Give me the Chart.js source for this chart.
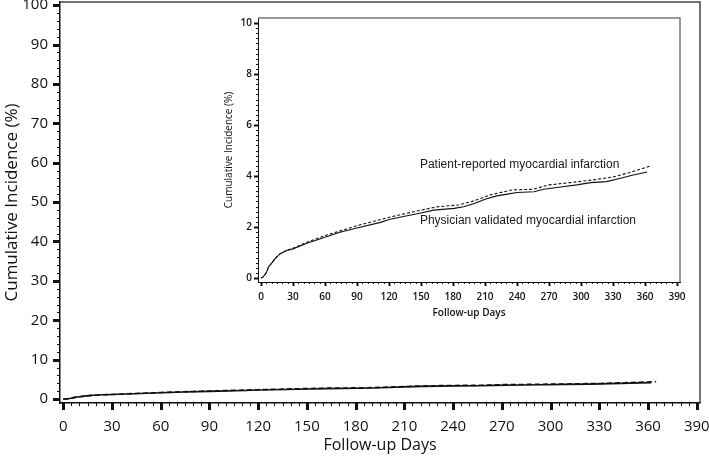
<!DOCTYPE html>
<html>
<head>
<meta charset="utf-8">
<script src="https://cdn.jsdelivr.net/npm/chart.js@4"></script>
<style>
  body { margin: 0; background: #fff; }
  #wrap { position: relative; width: 709px; height: 463px; }
  #mainChart { position: absolute; left: 0; top: 0; }
  #insetChart { position: absolute; left: 215px; top: 5px; background: #fff; }
</style>
</head>
<body>
<div id="wrap">
  <canvas id="mainChart" width="709" height="463"></canvas>
  <canvas id="insetChart" width="480" height="325"></canvas>
</div>
<script>
// follow-up days and cumulative incidence (%)
const physicianDays = [0, 2, 5, 7, 10, 13, 18, 24, 30, 43, 60, 74, 90, 112, 120, 137, 150, 162, 181, 190, 200, 210, 221, 231, 240, 256, 265, 281, 296, 309, 324, 337, 349, 362];
const physicianPct = [0, 0.04, 0.2, 0.43, 0.58, 0.75, 0.95, 1.08, 1.14, 1.36, 1.6, 1.79, 1.96, 2.18, 2.29, 2.44, 2.55, 2.66, 2.73, 2.79, 2.92, 3.09, 3.22, 3.29, 3.35, 3.38, 3.48, 3.57, 3.65, 3.74, 3.78, 3.91, 4.04, 4.16];

const patientDays = [0, 2, 5, 7, 10, 13, 18, 24, 30, 43, 60, 90, 120, 150, 165, 185, 200, 215, 235, 255, 270, 290, 310, 330, 345, 365];
const patientPct = [0, 0.04, 0.2, 0.43, 0.58, 0.75, 0.95, 1.08, 1.16, 1.4, 1.66, 2.05, 2.38, 2.66, 2.79, 2.86, 3.03, 3.26, 3.45, 3.48, 3.65, 3.74, 3.84, 3.96, 4.13, 4.39];

const dayTicks = [0, 30, 60, 90, 120, 150, 180, 210, 240, 270, 300, 330, 360, 390];
const mainPctTicks = [0, 10, 20, 30, 40, 50, 60, 70, 80, 90, 100];
const insetPctTicks = [0, 2, 4, 6, 8, 10];

const patientLabel = "Patient-reported myocardial infarction";
const physicianLabel = "Physician validated myocardial infarction";

function toPoints(xs, ys) {
  return xs.map((x, i) => ({ x: x, y: ys[i] }));
}

function makeDatasets(width, dash) {
  return [
    {
      label: physicianLabel,
      data: toPoints(physicianDays, physicianPct),
      borderColor: "#111",
      borderWidth: width,
      pointRadius: 0,
      tension: 0,
    },
    {
      label: patientLabel,
      data: toPoints(patientDays, patientPct),
      borderColor: "#111",
      borderWidth: width,
      borderDash: dash,
      pointRadius: 0,
      tension: 0,
    },
  ];
}

// fixed axis boxes, no extra room for overhanging labels
function fixX(h) {
  return (s) => { s.height = h; s.paddingLeft = 0; s.paddingRight = 0; };
}
function fixY(w) {
  return (s) => { s.width = w; s.paddingTop = 0; s.paddingBottom = 0; };
}

// draws the major/minor tick marks and the top/right frame
function tickPlugin(cfg) {
  return {
    id: "ticks",
    afterDraw(chart) {
      const ctx = chart.ctx;
      const area = chart.chartArea;
      const xs = chart.scales.x;
      const ys = chart.scales.y;
      ctx.save();
      ctx.strokeStyle = "#111";
      // x ticks
      for (let d = 0; d <= 390; d += 5) {
        const px = Math.round(xs.getPixelForValue(d)) + 0.5;
        const major = d % 30 === 0;
        ctx.lineWidth = major ? cfg.majorW : 1;
        ctx.beginPath();
        ctx.moveTo(px, area.bottom);
        ctx.lineTo(px, area.bottom + (major ? cfg.majorLen : cfg.minorLen));
        ctx.stroke();
      }
      // y ticks
      for (let v = 0; v <= cfg.yMax + 1e-6; v += cfg.yMinor) {
        const py = Math.round(ys.getPixelForValue(v)) + 0.5;
        const major = Math.abs(v / cfg.yMajor - Math.round(v / cfg.yMajor)) < 1e-6;
        ctx.lineWidth = major ? cfg.majorW : 1;
        ctx.beginPath();
        ctx.moveTo(area.left, py);
        ctx.lineTo(area.left - (major ? cfg.majorLen : cfg.minorLen), py);
        ctx.stroke();
      }
      // frame
      ctx.strokeStyle = cfg.frameColor;
      ctx.lineWidth = cfg.frameW;
      ctx.beginPath();
      ctx.moveTo(area.left, area.top);
      ctx.lineTo(area.right, area.top);
      ctx.lineTo(area.right, area.bottom);
      ctx.stroke();
      ctx.restore();
    },
  };
}

const labelPlugin = {
  id: "curveLabels",
  afterDatasetsDraw(chart) {
    const ctx = chart.ctx;
    const xs = chart.scales.x;
    const ys = chart.scales.y;
    ctx.save();
    ctx.fillStyle = "#1a1a1a";
    ctx.font = "12px 'Liberation Sans', Arial, sans-serif";
    ctx.textBaseline = "middle";
    ctx.fillText(patientLabel, xs.getPixelForValue(149), ys.getPixelForValue(4.43));
    ctx.fillText(physicianLabel, xs.getPixelForValue(149), ys.getPixelForValue(2.24));
    ctx.restore();
  },
};

new Chart(document.getElementById("mainChart"), {
  type: "line",
  data: { datasets: makeDatasets(1.6, [5, 3]) },
  options: {
    responsive: false,
    animation: false,
    layout: { padding: { top: 2, right: 9, left: 0, bottom: 0 } },
    plugins: { legend: { display: false }, tooltip: { enabled: false } },
    scales: {
      x: {
        type: "linear",
        min: -2,
        max: 392,
        afterFit: fixX(60),
        afterBuildTicks: (s) => { s.ticks = dayTicks.map((v) => ({ value: v })); },
        grid: { display: false, drawTicks: false },
        border: { display: true, color: "#111", width: 1.5 },
        ticks: { padding: 15, color: "#111", maxRotation: 0, font: { family: "'Open Sans'", size: 15 } },
        title: { display: true, text: "Follow-up Days", color: "#111", padding: { bottom: 8 }, font: { family: "'Open Sans'", size: 16 } },
      },
      y: {
        type: "linear",
        min: -1,
        max: 100.8,
        afterFit: fixY(60),
        afterBuildTicks: (s) => { s.ticks = mainPctTicks.map((v) => ({ value: v })); },
        grid: { display: false, drawTicks: false },
        border: { display: true, color: "#111", width: 1.5 },
        ticks: { padding: 12, color: "#111", font: { family: "'Open Sans'", size: 15 } },
        title: { display: true, text: "Cumulative Incidence (%)", color: "#111", padding: { top: 2 }, font: { family: "'Open Sans'", size: 17 } },
      },
    },
  },
  plugins: [tickPlugin({ majorW: 3, majorLen: 7, minorLen: 3, yMax: 100, yMinor: 2, yMajor: 10, frameColor: "#444", frameW: 1.5 })],
});

new Chart(document.getElementById("insetChart"), {
  type: "line",
  data: { datasets: makeDatasets(1.1, [3, 2]) },
  options: {
    responsive: false,
    animation: false,
    layout: { padding: { top: 13, right: 15, left: 0, bottom: 0 } },
    plugins: { legend: { display: false }, tooltip: { enabled: false } },
    scales: {
      x: {
        type: "linear",
        min: -2.8,
        max: 392.8,
        afterFit: fixX(48),
        afterBuildTicks: (s) => { s.ticks = dayTicks.map((v) => ({ value: v })); },
        grid: { display: false, drawTicks: false },
        border: { display: true, color: "#111", width: 1 },
        ticks: { padding: 9, color: "#111", maxRotation: 0, font: { family: "'Open Sans'", size: 10, weight: "600" } },
        title: { display: true, text: "Follow-up Days", color: "#111", padding: { bottom: 11 }, font: { family: "'Open Sans'", size: 10, weight: "600" } },
      },
      y: {
        type: "linear",
        min: -0.16,
        max: 10.2,
        afterFit: fixY(43),
        afterBuildTicks: (s) => { s.ticks = insetPctTicks.map((v) => ({ value: v })); },
        grid: { display: false, drawTicks: false },
        border: { display: true, color: "#111", width: 1 },
        ticks: { padding: 6, color: "#111", font: { family: "'Open Sans'", size: 10, weight: "600" } },
        title: { display: true, text: "Cumulative Incidence (%)", color: "#111", padding: { top: 8 }, font: { family: "'Open Sans'", size: 10 } },
      },
    },
  },
  plugins: [
    tickPlugin({ majorW: 2, majorLen: 4, minorLen: 2, yMax: 10, yMinor: 0.2, yMajor: 2, frameColor: "#777", frameW: 1.5 }),
    labelPlugin,
  ],
});
</script>
</body>
</html>
